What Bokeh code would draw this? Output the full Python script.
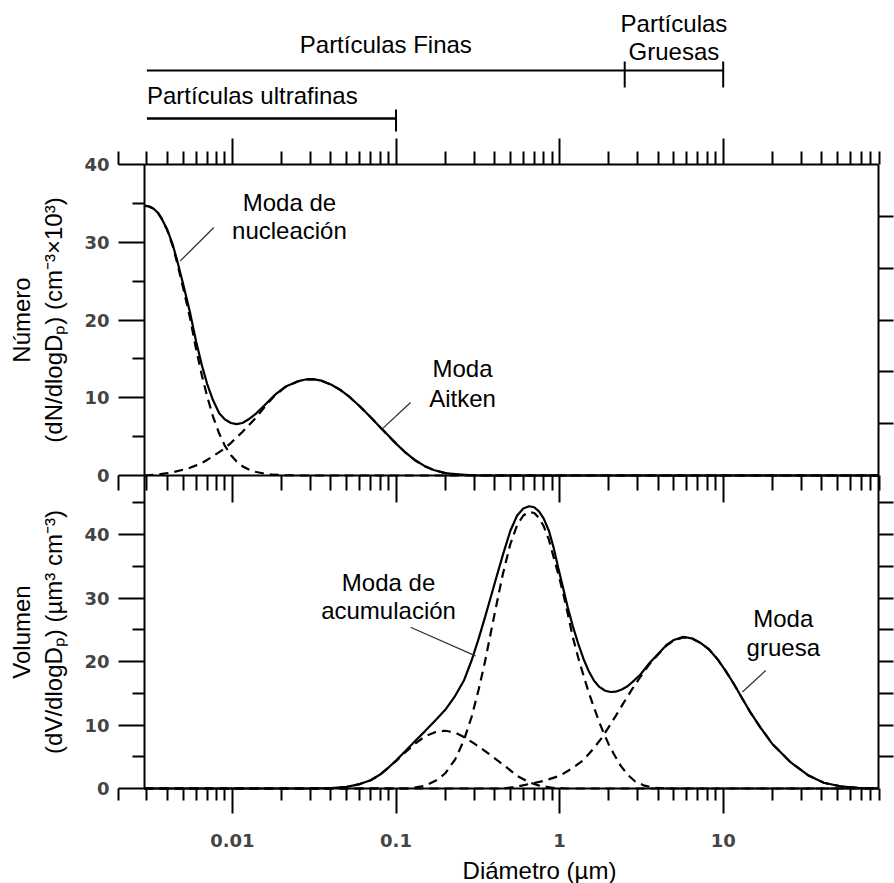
import math
from bokeh.plotting import figure
from bokeh.models import Range1d, FixedTicker, LinearAxis, LogAxis, CustomJSTickFormatter
from bokeh.core.properties import value
from bokeh.embed import file_html
from bokeh.resources import INLINE

# ---------------- data ----------------
# size classes (µm)
ultrafine_range = [0.003, 0.1]
fine_range = [0.003, 2.5]
coarse_range = [2.5, 10.0]
class_labels = ["Partículas Finas", "Partículas ultrafinas", "Partículas", "Gruesas"]

# Top panel: number distribution dN/dlogDp (cm^-3 x 10^3)
d_num = [0.0029, 0.0031, 0.0033, 0.0035, 0.0037, 0.004, 0.0043, 0.0046, 0.005, 0.0055,
         0.006, 0.0065, 0.007, 0.0076, 0.0083, 0.009, 0.0098, 0.0106, 0.0115, 0.0125,
         0.014, 0.016, 0.018, 0.021, 0.025, 0.028, 0.031, 0.035, 0.04, 0.045,
         0.052, 0.06, 0.07, 0.08, 0.09, 0.1, 0.115, 0.13, 0.15, 0.17,
         0.2, 0.25, 0.3, 0.4, 89.0]
n_total = [34.7, 34.6, 34.3, 33.8, 33.0, 31.6, 29.8, 27.6, 24.6, 21.0,
           17.2, 14.2, 11.8, 9.7, 8.0, 7.2, 6.75, 6.6, 6.75, 7.2,
           8.0, 9.2, 10.3, 11.4, 12.1, 12.35, 12.4, 12.2, 11.7, 11.1,
           10.1, 8.9, 7.5, 6.2, 5.1, 4.1, 2.9, 2.0, 1.2, 0.7,
           0.3, 0.1, 0.03, 0.0, 0.0]

d_nuc = [0.0029, 0.0031, 0.0033, 0.0035, 0.0037, 0.004, 0.0043, 0.0046, 0.005, 0.0055,
         0.006, 0.0065, 0.007, 0.0076, 0.0083, 0.009, 0.0098, 0.0106, 0.0115, 0.0125,
         0.014, 0.016, 0.018, 0.021, 0.025, 89.0]
n_nuc = [34.7, 34.6, 34.3, 33.8, 33.0, 31.5, 29.6, 27.3, 24.1, 20.3,
         16.2, 12.9, 10.2, 7.6, 5.4, 3.8, 2.6, 1.8, 1.2, 0.8,
         0.45, 0.2, 0.1, 0.03, 0.0, 0.0]

d_ait = [0.0029, 0.0033, 0.0037, 0.0043, 0.005, 0.0055, 0.006, 0.0065, 0.007, 0.0076,
         0.0083, 0.009, 0.0098, 0.0106, 0.0115, 0.0125, 0.014, 0.016, 0.018, 0.021,
         0.025, 0.028, 0.031, 0.035, 0.04, 0.045, 0.052, 0.06, 0.07, 0.08,
         0.09, 0.1, 0.115, 0.13, 0.15, 0.17, 0.2, 0.25, 0.3, 0.4, 89.0]
n_ait = [0.0, 0.1, 0.2, 0.4, 0.75, 1.0, 1.3, 1.6, 2.0, 2.5,
         3.0, 3.5, 4.2, 4.9, 5.6, 6.4, 7.5, 9.0, 10.2, 11.35,
         12.1, 12.35, 12.4, 12.2, 11.7, 11.1, 10.1, 8.9, 7.5, 6.2,
         5.1, 4.1, 2.9, 2.0, 1.2, 0.7, 0.3, 0.1, 0.03, 0.0, 0.0]

# Bottom panel: volume distribution dV/dlogDp (µm^3 cm^-3)
d_vol = [0.0029, 0.03, 0.04, 0.05, 0.06, 0.07, 0.08, 0.09, 0.1, 0.115,
         0.13, 0.15, 0.175, 0.2, 0.23, 0.26, 0.29, 0.32, 0.35, 0.38,
         0.41, 0.45, 0.5, 0.55, 0.6, 0.65, 0.7, 0.75, 0.8, 0.86,
         0.92, 0.98, 1.05, 1.12, 1.2, 1.3, 1.4, 1.5, 1.62, 1.75,
         1.9, 2.05, 2.2, 2.4, 2.6, 2.85, 3.13, 3.5, 4.0, 4.5,
         5.0, 5.7, 6.5, 7.3, 8.2, 9.2, 10.3, 11.6, 13.0, 14.5,
         16.9, 20.0, 25.9, 33.0, 41.2, 52.0, 66.0, 89.0]
v_total = [0.0, 0.0, 0.05, 0.25, 0.7, 1.3, 2.2, 3.3, 4.4, 6.0,
           7.4, 9.0, 10.8, 12.4, 14.6, 17.0, 20.2, 23.6, 27.0, 30.2,
           33.2, 36.8, 40.6, 43.0, 44.1, 44.45, 44.3, 43.6, 42.5, 40.6,
           37.9, 34.8, 31.6, 28.6, 25.7, 22.8, 20.4, 18.6, 17.0, 16.0,
           15.4, 15.2, 15.25, 15.6, 16.1, 17.0, 18.0, 19.6, 21.2, 22.6,
           23.4, 23.9, 23.6, 22.9, 21.9, 20.4, 18.6, 16.5, 14.3, 12.2,
           9.6, 7.0, 4.1, 2.1, 0.9, 0.35, 0.1, 0.0]

d_acc1 = [0.0029, 0.03, 0.04, 0.05, 0.06, 0.07, 0.08, 0.09, 0.1, 0.115,
          0.13, 0.15, 0.175, 0.2, 0.23, 0.26, 0.3, 0.35, 0.4, 0.47,
          0.55, 0.65, 0.75, 0.9, 1.1, 89.0]
v_acc1 = [0.0, 0.0, 0.05, 0.25, 0.7, 1.3, 2.2, 3.3, 4.3, 5.8,
          7.0, 8.2, 8.9, 9.1, 8.8, 8.1, 7.1, 5.9, 4.8, 3.4,
          2.0, 1.0, 0.45, 0.12, 0.0, 0.0]

d_acc2 = [0.0029, 0.12, 0.15, 0.18, 0.2, 0.23, 0.26, 0.29, 0.32, 0.35,
          0.38, 0.41, 0.45, 0.5, 0.55, 0.6, 0.65, 0.7, 0.75, 0.8,
          0.86, 0.92, 1.0, 1.05, 1.12, 1.2, 1.3, 1.4, 1.5, 1.62,
          1.75, 1.87, 2.0, 2.15, 2.36, 2.6, 2.9, 3.3, 3.8, 4.5, 89.0]
v_acc2 = [0.0, 0.0, 0.4, 1.4, 2.4, 4.6, 7.6, 11.3, 15.6, 20.0,
          24.6, 28.8, 33.8, 38.5, 41.5, 43.0, 43.55, 43.4, 42.6, 41.3,
          39.2, 36.4, 33.0, 30.8, 27.6, 24.0, 20.6, 17.8, 15.3, 12.8,
          10.4, 8.6, 6.9, 5.4, 3.6, 2.2, 1.1, 0.45, 0.1, 0.0, 0.0]

d_coarse = [0.0029, 0.45, 0.55, 0.65, 0.8, 1.0, 1.2, 1.4, 1.6, 1.8,
            2.0, 2.2, 2.45, 2.75, 3.1, 3.5, 4.0, 4.5, 5.0, 5.7,
            6.5, 7.3, 8.2, 9.2, 10.3, 11.6, 13.0, 14.5, 16.9, 20.0,
            25.9, 33.0, 41.2, 52.0, 66.0, 89.0]
v_coarse = [0.0, 0.0, 0.3, 0.7, 1.2, 2.0, 3.2, 4.5, 6.2, 7.9,
            9.7, 11.4, 13.4, 15.5, 17.5, 19.4, 21.1, 22.5, 23.3, 23.8,
            23.6, 22.9, 21.9, 20.4, 18.6, 16.5, 14.3, 12.2, 9.6, 7.0,
            4.1, 2.1, 0.9, 0.35, 0.1, 0.0]

# axis ticks
x_major = [0.01, 0.1, 1, 10]
x_minor = [m * 10.0 ** e for e in range(-3, 2) for m in range(2, 10)]
y_major = [0, 10, 20, 30, 40]
y_minor_top = [5, 15, 25, 35]
y_minor_bot = [5, 15, 25, 35, 45]
right_ticks_top = [40.0 * k / 6 for k in range(1, 6)]
right_ticks_bot = [5 * k for k in range(1, 10)]

# axis titles
top_ylabel = "Número\n(dN/dlogDₚ) (cm⁻³×10³)"
bot_ylabel = "Volumen\n(dV/dlogDₚ) (µm³ cm⁻³)"
xlabel = "Diámetro (µm)"

# annotations
top_labels = ["Moda de", "nucleación", "Moda", "Aitken"]
top_labels_x = [0.0223, 0.0223, 0.255, 0.255]
top_labels_y = [35.1, 31.5, 13.75, 9.9]
top_ptr = dict(x0=[0.0048, 0.0824], y0=[27.6, 6.0], x1=[0.0077, 0.1227], y1=[31.9, 9.4])

bot_labels = ["Moda de", "acumulación", "Moda", "gruesa"]
bot_labels_x = [0.09, 0.09, 23.3, 23.3]
bot_labels_y = [32.5, 28.0, 26.8, 22.25]
bot_ptr = dict(x0=[0.1227, 13.1], y0=[25.4, 15.2], x1=[0.306, 18.2], y1=[20.9, 18.6])

# ---------------- layout / style ----------------
FONT = "Liberation Sans"
TICK_FONT = "DejaVu Sans"
W, HPAGE = 894, 883
LEFT, RIGHT = 144, 16                  # panel box left / right margins (px)
Y_TOP, Y_SPLIT, Y_BOT = 164, 475, 788  # panel box edges (px from top)
TOP_MAX, BOT_MAX = 40.0, 49.3          # value range shown in each panel
X0, X1 = 0.0029, 89.0                  # diameter range of the panels
LW = 2.2
DASH = "9 6"

# one frame covers the whole page; every axis is drawn at a fixed location inside it
FWID = W - LEFT - RIGHT
ppd = FWID / (math.log10(X1) - math.log10(X0))
XS = 10 ** (math.log10(X0) - LEFT / ppd)
XE = 10 ** (math.log10(X1) + RIGHT / ppd)
ppu_bot = (Y_BOT - Y_SPLIT) / BOT_MAX
ppu_top = (Y_SPLIT - Y_TOP) / TOP_MAX
XLAB = 10 ** (math.log10(X0) + (539 - LEFT) / ppd)   # centre of the x-axis title


def style_axis(ax):
    ax.axis_line_width = 2
    ax.axis_line_color = "black"
    ax.major_tick_line_width = 2
    ax.minor_tick_line_width = 2
    ax.major_tick_line_color = "black"
    ax.minor_tick_line_color = "black"
    ax.major_tick_in = 0
    ax.minor_tick_in = 0
    ax.major_label_text_font = TICK_FONT
    ax.major_label_text_font_size = "18px"
    ax.major_label_text_font_style = "bold"
    ax.major_label_text_color = "#444444"
    ax.axis_label_text_font = FONT
    ax.axis_label_text_font_size = "24px"
    ax.axis_label_text_font_style = "normal"
    ax.axis_label_text_color = "black"


def silent(ax):
    ax.major_label_text_font_size = "1px"
    ax.major_label_text_alpha = 0
    ax.major_label_standoff = 0


def add_text(p, xs, ys, texts, align="center", **kw):
    p.text(x=xs, y=ys, text=texts, text_font=value(FONT), text_font_size="24px",
           text_align=align, text_baseline="middle", text_color="black", **kw)


G = figure(x_axis_type="log", x_range=Range1d(XS, XE),
           y_range=Range1d(-(HPAGE - Y_BOT) / ppu_bot, Y_BOT / ppu_bot),
           title=None, frame_width=W, frame_height=HPAGE, min_border=0,
           x_axis_location=None, y_axis_location=None,
           toolbar_location=None, output_backend="svg")
G.extra_y_ranges = {
    "top": Range1d(-(HPAGE - Y_SPLIT) / ppu_top, Y_SPLIT / ppu_top),
    "page": Range1d(HPAGE, 0),
}
G.grid.visible = False
G.outline_line_color = None
G.background_fill_color = "white"
G.border_fill_color = "white"

# ---- size-class brackets (page strip) ----
G.line(x=[fine_range[0], coarse_range[1]], y=[70, 70], line_color="black", line_width=2,
       y_range_name="page")
G.segment(x0=[fine_range[1], coarse_range[1]], y0=[61, 61],
          x1=[coarse_range[0], coarse_range[1]], y1=[87, 87], line_color="black", line_width=2,
          y_range_name="page")
G.line(x=ultrafine_range, y=[118, 118], line_color="black", line_width=2.5, y_range_name="page")
G.segment(x0=[ultrafine_range[1]], y0=[109], x1=[ultrafine_range[1]], y1=[131],
          line_color="black", line_width=2, y_range_name="page")
add_text(G, [(fine_range[0] * fine_range[1]) ** 0.5], [44], [class_labels[0]], y_range_name="page")
add_text(G, [ultrafine_range[0]], [95], [class_labels[1]], align="left", y_range_name="page")
cc = (coarse_range[0] * coarse_range[1]) ** 0.5
add_text(G, [cc, cc], [23, 51], class_labels[2:], y_range_name="page")
add_text(G, [XLAB], [870], [xlabel], y_range_name="page")

# ---- x axes ----
ta = LogAxis(ticker=FixedTicker(ticks=x_major, minor_ticks=x_minor), bounds=(X0, X1),
             y_range_name="top", fixed_location=TOP_MAX)
style_axis(ta)
ta.major_tick_out = 26
ta.minor_tick_out = 13
silent(ta)
G.add_layout(ta, "above")

sa = LogAxis(ticker=FixedTicker(ticks=x_major, minor_ticks=x_minor), bounds=(X0, X1),
             fixed_location=BOT_MAX)
style_axis(sa)
sa.major_tick_out = 0
sa.minor_tick_out = 0
sa.major_tick_in = 27
sa.minor_tick_in = 15
silent(sa)
G.add_layout(sa, "above")

bx = LogAxis(ticker=FixedTicker(ticks=x_major, minor_ticks=x_minor), bounds=(X0, X1),
             fixed_location=0)
style_axis(bx)
bx.formatter = CustomJSTickFormatter(code="return String(tick)")
bx.major_tick_out = 25
bx.minor_tick_out = 12
bx.major_label_standoff = 20
G.add_layout(bx, "below")

# ---- y axes ----
lt = LinearAxis(y_range_name="top", fixed_location=X0, bounds=(0, TOP_MAX),
                ticker=FixedTicker(ticks=y_major, minor_ticks=y_minor_top))
lb = LinearAxis(fixed_location=X0, bounds=(0, BOT_MAX),
                ticker=FixedTicker(ticks=y_major, minor_ticks=y_minor_bot))
for a, lab in ((lt, top_ylabel), (lb, bot_ylabel)):
    style_axis(a)
    a.major_tick_out = 26
    a.minor_tick_out = 12
    a.major_label_standoff = 9
    a.axis_label = lab
    a.axis_label_standoff = 14
    G.add_layout(a, "left")

rt = LinearAxis(y_range_name="top", fixed_location=X1, bounds=(0, TOP_MAX),
                ticker=FixedTicker(ticks=right_ticks_top))
rb = LinearAxis(fixed_location=X1, bounds=(0, BOT_MAX),
                ticker=FixedTicker(ticks=right_ticks_bot))
for a in (rt, rb):
    style_axis(a)
    a.major_tick_out = 15
    a.minor_tick_out = 0
    silent(a)
    G.add_layout(a, "right")

# ---- top panel curves ----
G.line(d_nuc, n_nuc, line_color="black", line_width=LW, line_dash=DASH, y_range_name="top")
G.line(d_ait, n_ait, line_color="black", line_width=LW, line_dash=DASH, y_range_name="top")
G.line(d_num, n_total, line_color="black", line_width=LW, y_range_name="top")
G.segment(x0=top_ptr["x0"], y0=top_ptr["y0"], x1=top_ptr["x1"], y1=top_ptr["y1"],
          line_color="#333333", line_width=1.3, y_range_name="top")
add_text(G, top_labels_x, top_labels_y, top_labels, y_range_name="top")

# ---- bottom panel curves ----
G.line(d_acc1, v_acc1, line_color="black", line_width=LW, line_dash=DASH)
G.line(d_acc2, v_acc2, line_color="black", line_width=LW, line_dash=DASH)
G.line(d_coarse, v_coarse, line_color="black", line_width=LW, line_dash=DASH)
G.line(d_vol, v_total, line_color="black", line_width=LW)
G.segment(x0=bot_ptr["x0"], y0=bot_ptr["y0"], x1=bot_ptr["x1"], y1=bot_ptr["y1"],
          line_color="#333333", line_width=1.3)
add_text(G, bot_labels_x, bot_labels_y, bot_labels)

open("out.html", "w").write(file_html(G, INLINE))
